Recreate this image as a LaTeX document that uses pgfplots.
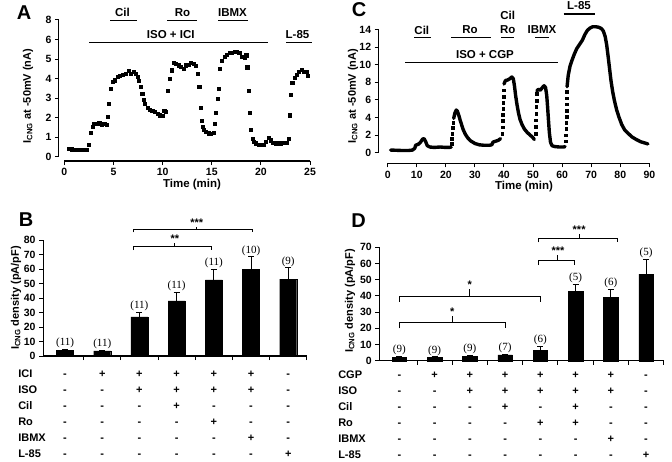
\documentclass[border=0pt]{standalone}
\usepackage{fontspec}
\setmainfont{Liberation Sans}
\newfontfamily\numfont{Liberation Serif}
\usepackage{pgfplots}
\pgfplotsset{compat=1.18}

\pgfplotsset{
  panel/.style={scale only axis, anchor=south west, clip=false,
    axis x line*=bottom, axis y line*=left,
    axis line style={line width=1.1pt},
    tick align=outside, major tick length=4pt, minor tick length=4pt,
    tick style={black, line width=1pt},
    tick label style={font=\bfseries\fontsize{10.5}{12}\selectfont},
    /pgf/number format/assume math mode=true},
  trace/.style={panel, axis line style={draw=none}},
  barpanel/.style={panel, xticklabels={}},
  bars/.style={ybar, bar width=#1, fill=black, draw=black,
    error bars/.cd, y dir=plus, y explicit,
    error bar style={line width=0.8pt, black},
    error mark options={rotate=90, mark size=3pt, line width=0.8pt, black}},
  counts/.style={draw=none, nodes near coords, point meta=explicit symbolic,
    nodes near coords style={font=\numfont\fontsize{11}{12}\selectfont, anchor=south, inner sep=1pt}},
}

\begin{document}
\begin{tikzpicture}[
  lab/.style={font=\bfseries\fontsize{11.5}{13}\selectfont, inner sep=0pt},
  ylab/.style={font=\bfseries\fontsize{11}{13}\selectfont, rotate=90, inner sep=0pt},
  plet/.style={font=\bfseries\fontsize{20}{22}\selectfont, inner sep=0pt},
  hbar/.style={line width=1.2pt},
  brk/.style={line width=1pt},
  stars/.style={font=\bfseries\fontsize{11}{12}\selectfont, anchor=base, inner sep=0pt},
  col/.style={font=\bfseries\fontsize{11}{16}\selectfont, align=center, anchor=north, inner sep=0pt},
  rows/.style={font=\bfseries\fontsize{11}{16}\selectfont, align=left, anchor=north west, inner sep=0pt},
]
\path[use as bounding box] (0pt,0pt) rectangle (672pt,-461pt);

% ---------------- A: time course, ISO + ICI
\begin{axis}[trace, at={(58.9pt,-161pt)}, x=9.83pt, y=19.53pt,
  xmin=-0.55, xmax=25.2, ymin=-0.22, ymax=7.05,
  xtick={0,5,...,25}, xticklabels={0,5,10,15,20,25},
  ytick={0,...,7}, yticklabels={0,1,2,3,4,5,6,8}]
\addplot[only marks, mark=square*, mark size=1.6pt, black] coordinates {
 (0.48,0.43)(0.75,0.38)(1.0,0.35)(1.25,0.34)(1.5,0.34)(1.75,0.34)(2.0,0.34)(2.25,0.34)
 (2.5,0.63)(2.68,1.23)(2.85,1.54)(3.05,1.71)(3.3,1.68)(3.55,1.72)(3.8,1.66)(4.05,1.7)
 (4.3,1.62)(4.4,2.05)(4.55,2.73)(4.68,3.5)(4.89,3.84)(5.16,3.92)(5.43,4.09)(5.67,4.14)
 (5.95,4.18)(6.25,4.27)(6.51,4.39)(6.78,4.27)(7.02,4.35)(7.29,4.27)(7.46,4.09)(7.6,3.89)
 (7.8,3.58)(7.93,3.24)(8.04,2.93)(8.2,2.73)(8.48,2.52)(8.72,2.42)(8.95,2.35)(9.22,2.3)
 (9.5,2.22)(9.73,2.13)(9.97,2.08)(10.17,2.35)(10.35,2.3)(10.55,3.38)(10.72,4.0)(10.9,4.43)
 (11.09,4.8)(11.36,4.78)(11.6,4.69)(11.84,4.61)(12.11,4.52)(12.38,4.69)(12.62,4.73)
 (12.86,4.81)(13.13,4.78)(13.35,4.66)(13.6,4.27)(13.73,3.58)(13.87,2.51)(13.97,1.84)
 (14.07,1.54)(14.21,1.37)(14.41,1.28)(14.65,1.2)(14.89,1.16)(15.16,1.23)(15.33,1.71)
 (15.43,2.25)(15.57,2.99)(15.7,3.5)(15.84,4.52)(16.0,4.92)(16.28,5.12)(16.55,5.24)
 (16.8,5.32)(17.05,5.34)(17.3,5.36)(17.55,5.38)(17.8,5.32)(18.08,5.12)(18.32,5.08)
 (18.5,5.2)(18.6,4.58)(18.72,3.38)(18.82,2.25)(18.96,1.37)(19.13,0.94)(19.3,0.77)
 (19.5,0.69)(19.74,0.6)(19.97,0.6)(20.25,0.6)(20.48,0.77)(20.76,0.99)(20.99,0.85)
 (21.26,0.73)(21.53,0.69)(21.77,0.69)(22.04,0.69)(22.35,0.72)(22.62,0.72)(22.79,0.94)
 (22.96,2.13)(23.06,3.19)(23.19,3.79)(23.4,4.06)(23.64,4.18)(23.88,4.35)(24.15,4.47)
 (24.39,4.35)(24.6,4.35)(24.76,4.13)
};
\draw[line width=1.1pt] (axis cs:0,-0.22) -- (axis cs:25,-0.22);
\draw[line width=1.1pt] (axis cs:-0.55,0) -- (axis cs:-0.55,7);
\end{axis}

% ---------------- C: time course, ISO + CGP
\begin{axis}[trace, at={(378.7pt,-163.3pt)}, x=2.907pt, y=8.81pt,
  xmin=-3.1, xmax=90.5, ymin=-1.2, ymax=14.3,
  xtick={0,10,...,90}, ytick={0,2,...,14}]
\addplot[black, line width=3.4pt, line join=round, line cap=round] coordinates {
 (1,0.3)(3,0.28)(5,0.25)(7,0.25)(8.5,0.3)(9.3,0.5)(9.6,0.85)(10.5,0.95)(11.3,1.2)
 (12,1.55)(12.5,1.6)(13,1.3)(13.6,0.8)(14.5,0.65)(16,0.6)(18,0.65)(20,0.6)(21.8,0.62)};
\addplot[only marks, mark=square*, mark size=1.4pt, black] coordinates {
 (22.0,1.0)(22.1,1.6)(22.2,2.2)(22.35,2.8)(22.5,3.4)};
\addplot[black, line width=3.4pt, line join=round, line cap=round] coordinates {
 (22.7,3.9)(23.1,4.5)(23.6,4.85)(24,4.7)(24.5,4.2)(25,3.6)(25.5,3.1)(26,2.6)(26.7,2.1)
 (27.5,1.7)(28.5,1.35)(30,1.05)(31.5,0.9)(33,0.85)(35,0.85)(35.8,0.9)(36.2,1.2)
 (37,1.3)(38,1.4)(38.8,1.6)};
\addplot[only marks, mark=square*, mark size=1.4pt, black] coordinates {
 (39.4,2.2)(39.5,2.9)(39.6,3.6)(39.65,4.3)(39.7,5.0)(39.75,5.7)(39.8,6.4)(39.85,7.1)};
\addplot[black, line width=3.4pt, line join=round, line cap=round] coordinates {
 (40.0,7.8)(40.5,8.2)(41.2,8.25)(42,8.4)(42.7,8.6)(43.2,8.4)(43.6,7.6)(44,6.5)(44.5,5.4)
 (45,4.5)(45.5,3.8)(46.2,3.2)(47,2.7)(48,2.3)(49,2.0)(50,1.7)(50.4,1.5)};
\addplot[only marks, mark=square*, mark size=1.4pt, black] coordinates {
 (50.9,2.2)(50.95,2.95)(51.0,3.7)(51.05,4.45)(51.1,5.2)(51.15,5.95)(51.2,6.7)};
\addplot[black, line width=3.4pt, line join=round, line cap=round] coordinates {
 (51.3,7.0)(51.8,7.2)(52.5,7.1)(53.2,7.4)(53.8,7.6)(54.3,7.4)(54.7,6.5)(55.0,5.2)
 (55.3,3.7)(55.6,2.3)(56,1.2)(56.5,0.8)(57.5,0.7)(59,0.65)(60.5,0.65)(61,0.7)};
\addplot[only marks, mark=square*, mark size=1.4pt, black] coordinates {
 (61.35,1.3)(61.35,2.0)(61.4,2.7)(61.4,3.4)(61.45,4.1)(61.45,4.8)(61.5,5.5)(61.5,6.2)(61.55,6.9)};
\addplot[black, line width=3.4pt, line join=round, line cap=round] coordinates {
 (61.7,7.5)(62.1,8.8)(62.7,9.8)(63.4,10.5)(64.2,11.2)(65,11.8)(66,12.3)(67,12.8)
 (67.8,13.4)(68.7,13.9)(69.6,14.15)(70.5,14.3)(71.5,14.3)(72.5,14.25)(73.5,14.1)
 (74.2,13.8)(74.8,13.2)(75.3,12.3)(75.8,11.0)(76.3,9.6)(76.8,8.2)(77.4,6.9)(78,5.9)
 (78.8,4.8)(79.6,4.0)(80.5,3.2)(81.5,2.6)(82.7,2.2)(84,1.8)(85.5,1.5)(87,1.25)
 (88.5,1.1)(89.5,1.0)};
\draw[line width=1.1pt] (axis cs:0,-1.2) -- (axis cs:90,-1.2);
\draw[line width=1.1pt] (axis cs:-3.1,0) -- (axis cs:-3.1,14);
\end{axis}

% ---------------- B: bars, ICI series
\begin{axis}[barpanel, at={(43.1pt,-356pt)}, x=37.2pt, y=1.45pt,
  xmin=-0.59, xmax=6.5, ymin=0, ymax=80, ytick={0,10,...,80},
  xtick={0.5,1.5,...,6.5}]
\addplot[bars=17pt] coordinates {
 (0,4) +- (0,0.8) (1,3.5) +- (0,0.6) (2,27) +- (0,3) (3,38) +- (0,6)
 (4,52.5) +- (0,7.5) (5,60) +- (0,8.5) (6,53) +- (0,8)};
\addplot[counts] coordinates {
 (0,4.8) [(11)] (1,4.1) [(11)] (2,30) [(11)] (3,44) [(11)]
 (4,60) [(11)] (5,68.5) [(10)] (6,61) [(9)]};
\draw[brk] (axis cs:1.85,73.1) -- (axis cs:1.85,75.4) -- (axis cs:3.95,75.4) -- (axis cs:3.95,73.1);
\draw[brk] (axis cs:2.95,75.4) -- (axis cs:2.95,77.7);
\node[stars] at (axis cs:2.95,78) {**};
\draw[brk] (axis cs:1.85,85.3) -- (axis cs:1.85,87.3) -- (axis cs:5.03,87.3) -- (axis cs:5.03,85.3);
\draw[brk] (axis cs:3.54,87.3) -- (axis cs:3.54,89);
\node[stars] at (axis cs:3.54,89.3) {***};
\node[rows] at (axis cs:-1.263,0) [yshift=-9.8pt] {\strut ICI\\ISO\\Cil\\Ro\\IBMX\\L-85};
\node[col, yshift=-9.8pt] at (axis cs:0,0) {\strut -\\-\\-\\-\\-\\-};
\node[col, yshift=-9.8pt] at (axis cs:1,0) {\strut +\\-\\-\\-\\-\\-};
\node[col, yshift=-9.8pt] at (axis cs:2,0) {\strut +\\+\\-\\-\\-\\-};
\node[col, yshift=-9.8pt] at (axis cs:3,0) {\strut +\\+\\+\\-\\-\\-};
\node[col, yshift=-9.8pt] at (axis cs:4,0) {\strut +\\+\\-\\+\\-\\-};
\node[col, yshift=-9.8pt] at (axis cs:5,0) {\strut +\\+\\-\\-\\+\\-};
\node[col, yshift=-9.8pt] at (axis cs:6,0) {\strut -\\-\\-\\-\\-\\+};
\end{axis}

% ---------------- D: bars, CGP series
\begin{axis}[barpanel, at={(379.3pt,-360.7pt)}, x=35.24pt, y=1.62pt,
  xmin=-0.57, xmax=7.5, ymin=0, ymax=70, ytick={0,10,...,70},
  xtick={0.5,1.5,...,7.5}]
\addplot[bars=14.5pt] coordinates {
 (0,2.2) +- (0,0.5) (1,2.0) +- (0,0.4) (2,2.8) +- (0,0.5) (3,3.6) +- (0,0.6)
 (4,6.5) +- (0,2.5) (5,43) +- (0,4.1) (6,38.9) +- (0,5.1) (7,53.5) +- (0,9)};
\addplot[counts] coordinates {
 (0,2.7) [(9)] (1,2.4) [(9)] (2,3.3) [(9)] (3,4.2) [(7)]
 (4,9) [(6)] (5,47.1) [(5)] (6,44) [(6)] (7,62.5) [(5)]};
\draw[brk] (axis cs:0,20) -- (axis cs:0,23.7) -- (axis cs:3,23.7) -- (axis cs:3,20);
\draw[brk] (axis cs:1.5,23.7) -- (axis cs:1.5,27.6);
\node[stars] at (axis cs:1.5,28) {*};
\draw[brk] (axis cs:0,36.4) -- (axis cs:0,39.9) -- (axis cs:4,39.9) -- (axis cs:4,36.4);
\draw[brk] (axis cs:2,39.9) -- (axis cs:2,44);
\node[stars] at (axis cs:2,44.3) {*};
\draw[brk] (axis cs:3.95,59) -- (axis cs:3.95,62.1) -- (axis cs:4.97,62.1) -- (axis cs:4.97,59);
\draw[brk] (axis cs:4.5,62.1) -- (axis cs:4.5,65.2);
\node[stars] at (axis cs:4.5,65.5) {***};
\draw[brk] (axis cs:3.95,73) -- (axis cs:3.95,75.5) -- (axis cs:6.2,75.5) -- (axis cs:6.2,73);
\draw[brk] (axis cs:5.1,75.5) -- (axis cs:5.1,78);
\node[stars] at (axis cs:5.1,78.3) {***};
\node[rows] at (axis cs:-1.74,0) [yshift=-6.6pt] {\strut CGP\\ISO\\Cil\\Ro\\IBMX\\L-85};
\node[col, yshift=-6.6pt] at (axis cs:0,0) {\strut -\\-\\-\\-\\-\\-};
\node[col, yshift=-6.6pt] at (axis cs:1,0) {\strut +\\-\\-\\-\\-\\-};
\node[col, yshift=-6.6pt] at (axis cs:2,0) {\strut +\\+\\-\\-\\-\\-};
\node[col, yshift=-6.6pt] at (axis cs:3,0) {\strut +\\+\\+\\-\\-\\-};
\node[col, yshift=-6.6pt] at (axis cs:4,0) {\strut +\\+\\-\\+\\-\\-};
\node[col, yshift=-6.6pt] at (axis cs:5,0) {\strut +\\+\\+\\+\\-\\-};
\node[col, yshift=-6.6pt] at (axis cs:6,0) {\strut +\\+\\-\\-\\+\\-};
\node[col, yshift=-6.6pt] at (axis cs:7,0) {\strut -\\-\\-\\-\\-\\+};
\end{axis}

% ---------------- annotations, A
\node[lab] at (122.5pt,-12.5pt) {Cil};
\draw[hbar] (110pt,-20.7pt) -- (137pt,-20.7pt);
\node[lab] at (182.5pt,-12.5pt) {Ro};
\draw[hbar] (167pt,-20.7pt) -- (197pt,-20.7pt);
\node[lab] at (232.5pt,-12.5pt) {IBMX};
\draw[hbar] (218pt,-20.7pt) -- (248pt,-20.7pt);
\node[lab] at (170.8pt,-35pt) {ISO + ICI};
\draw[hbar] (89pt,-42.3pt) -- (268pt,-42.3pt);
\node[lab] at (297.5pt,-35pt) {L-85};
\draw[hbar] (286pt,-42.3pt) -- (312pt,-42.3pt);
\node[lab] at (192pt,-185pt) {Time (min)};
\node[ylab] at (28pt,-96pt) {I\textsubscript{CNG} at -50mV (nA)};
\node[plet] at (24pt,-12.5pt) {A};

% ---------------- annotations, C
\node[lab] at (421.8pt,-30pt) {Cil};
\draw[hbar] (414pt,-37.3pt) -- (431pt,-37.3pt);
\node[lab] at (470pt,-30pt) {Ro};
\draw[hbar] (451pt,-37.3pt) -- (491pt,-37.3pt);
\node[lab] at (507.7pt,-15pt) {Cil};
\node[lab] at (507.7pt,-30pt) {Ro};
\draw[hbar] (501pt,-37.3pt) -- (514pt,-37.3pt);
\node[lab] at (542pt,-30pt) {IBMX};
\draw[hbar] (535.3pt,-37.3pt) -- (549.3pt,-37.3pt);
\node[lab] at (485pt,-55pt) {ISO + CGP};
\draw[hbar] (405.3pt,-62.7pt) -- (557.7pt,-62.7pt);
\node[lab] at (579pt,-6pt) {L-85};
\draw[hbar] (563.7pt,-14pt) -- (595.3pt,-14pt);
\node[lab] at (524pt,-187pt) {Time (min)};
\node[ylab] at (353pt,-96pt) {I\textsubscript{CNG} at -50mV (nA)};
\node[plet] at (359pt,-10pt) {C};

% ---------------- annotations, B and D
\node[ylab] at (16pt,-298pt) {I\textsubscript{CNG} density (pA/pF)};
\node[plet] at (26pt,-220pt) {B};
\node[ylab] at (350pt,-301pt) {I\textsubscript{CNG} density (pA/pF)};
\node[plet] at (358.5pt,-220.8pt) {D};
\end{tikzpicture}
\end{document}
